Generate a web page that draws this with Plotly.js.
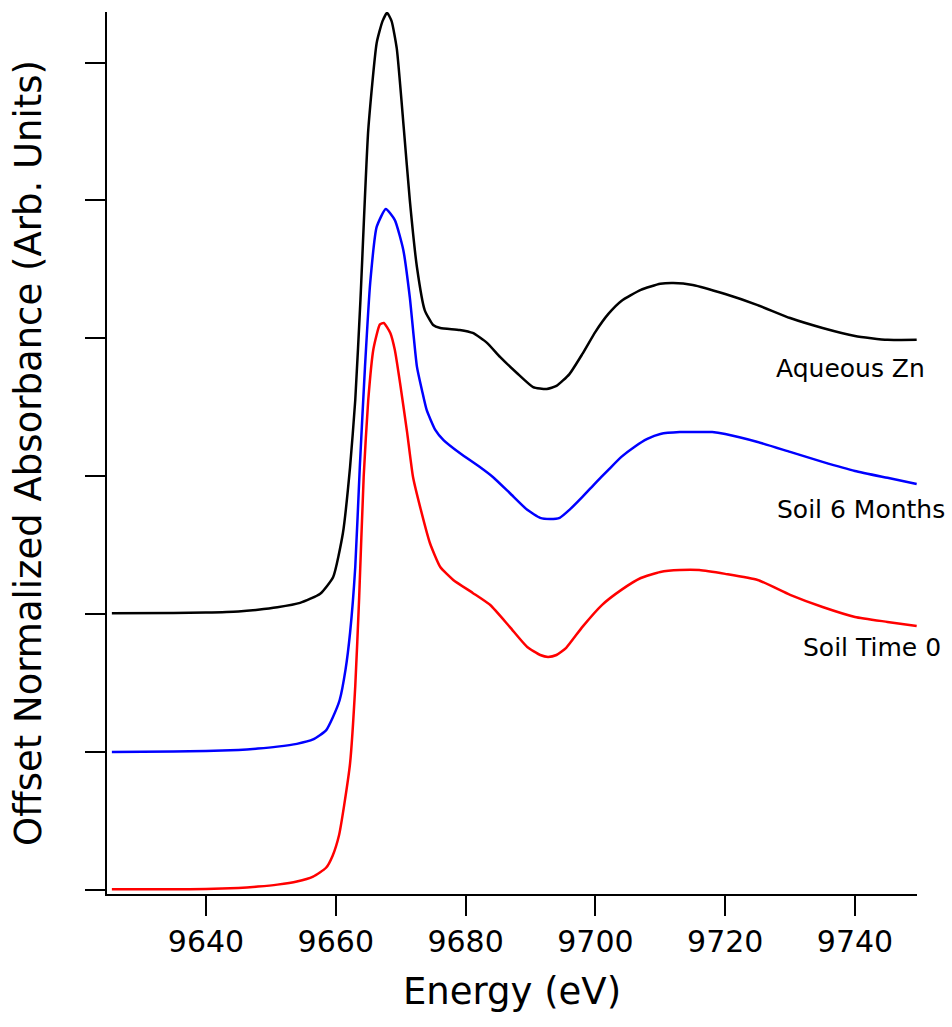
<!DOCTYPE html>
<html>
<head>
<meta charset="utf-8">
<script src="https://cdn.plot.ly/plotly-3.0.1.min.js"></script>
<style>html,body{margin:0;padding:0;background:#fff;}#chart{width:952px;height:1027px;}</style>
</head>
<body>
<div id="chart"></div>
<script>
// Series names and vertical offsets
const seriesNames = ["Aqueous Zn", "Soil 6 Months", "Soil Time 0"];
const offsets = [1.0, 0.5, 0.0];
const colors = ["#000000", "#0000ff", "#ff0000"];

// Aqueous Zn (normalized absorbance, before offset)
const energyAq = [9625.5, 9635, 9640, 9645, 9648, 9651, 9654.5, 9657.6, 9659.6, 9661.1, 9662.2, 9663, 9663.8, 9665.0, 9666.3, 9667.2, 9667.9, 9668.6, 9669.4, 9670.5, 9671.4, 9672.5, 9673.7, 9675, 9676.1, 9679.1, 9681.1, 9683.3, 9685.3, 9687.9, 9690.4, 9692.5, 9694, 9696, 9698, 9700, 9702, 9704, 9707, 9710, 9712, 9715, 9720, 9725, 9730, 9735, 9740, 9745, 9749.5];
const absAq = [0.004, 0.005, 0.007, 0.011, 0.017, 0.026, 0.042, 0.075, 0.136, 0.295, 0.534, 0.777, 1.140, 1.755, 2.071, 2.150, 2.180, 2.150, 2.050, 1.755, 1.502, 1.259, 1.103, 1.049, 1.038, 1.031, 1.020, 0.984, 0.933, 0.875, 0.824, 0.817, 0.828, 0.871, 0.944, 1.024, 1.089, 1.136, 1.176, 1.198, 1.201, 1.194, 1.161, 1.121, 1.074, 1.038, 1.009, 0.995, 0.995];

// Soil 6 Months
const energy6m = [9625.5, 9635, 9640, 9645, 9648, 9651, 9654, 9656.5, 9658.5, 9659.5, 9660.6, 9661.5, 9662.2, 9663, 9663.7, 9664.5, 9665.3, 9666.3, 9667.7, 9669.1, 9670.4, 9671.4, 9672.5, 9673.3, 9674.0, 9675.3, 9676.6, 9679.1, 9682.2, 9684.2, 9686.8, 9689.5, 9691.5, 9693, 9694.5, 9696, 9698, 9700, 9702, 9704, 9706, 9708, 9710, 9713, 9716, 9718, 9720, 9725, 9730, 9735, 9740, 9745, 9749.5];
const abs6m = [0.002, 0.003, 0.005, 0.009, 0.014, 0.021, 0.031, 0.047, 0.080, 0.125, 0.19, 0.30, 0.433, 0.672, 1.034, 1.397, 1.701, 1.904, 1.969, 1.929, 1.821, 1.65, 1.398, 1.31, 1.241, 1.17, 1.132, 1.085, 1.034, 0.998, 0.940, 0.879, 0.850, 0.846, 0.850, 0.879, 0.926, 0.976, 1.024, 1.071, 1.107, 1.136, 1.154, 1.161, 1.161, 1.161, 1.154, 1.125, 1.089, 1.053, 1.020, 0.995, 0.973];

// Soil Time 0
const energyT0 = [9625.5, 9635, 9640, 9645, 9648, 9651, 9654, 9656.5, 9658.5, 9659.5, 9660.5, 9661.3, 9662.2, 9663.0, 9663.6, 9664.3, 9665.0, 9665.8, 9666.8, 9667.4, 9668.4, 9669.1, 9669.9, 9671, 9671.9, 9673, 9674.5, 9676.1, 9678.1, 9681.1, 9683.8, 9686.8, 9689.5, 9691.5, 9692.7, 9694, 9695.5, 9698, 9701, 9704, 9707, 9710, 9713, 9716, 9720, 9725, 9730, 9735, 9740, 9745, 9749.5];
const absT0 = [0.004, 0.004, 0.005, 0.009, 0.014, 0.021, 0.032, 0.050, 0.082, 0.125, 0.20, 0.31, 0.46, 0.74, 1.06, 1.50, 1.777, 1.962, 2.051, 2.056, 2.020, 1.958, 1.839, 1.658, 1.498, 1.389, 1.259, 1.172, 1.125, 1.078, 1.034, 0.955, 0.882, 0.853, 0.846, 0.853, 0.879, 0.955, 1.034, 1.089, 1.132, 1.154, 1.161, 1.161, 1.147, 1.125, 1.071, 1.027, 0.991, 0.973, 0.958];

// Axis ticks
const xTickVals = [9640, 9660, 9680, 9700, 9720, 9740];
const yTickVals = [0, 0.5, 1.0, 1.5, 2.0, 2.5, 3.0];

const energies = [energyAq, energy6m, energyT0];
const absorbances = [absAq, abs6m, absT0];

const traces = seriesNames.map((name, i) => ({
  type: "scatter",
  mode: "lines",
  name: name,
  x: energies[i],
  y: absorbances[i].map(v => v + offsets[i]),
  line: { color: colors[i], width: 2.5, shape: "spline", smoothing: 0.5 },
  hoverinfo: "skip"
}));

const FONT = "DejaVu Sans, Lucida Grande, sans-serif";

const layout = {
  width: 952,
  height: 1027,
  margin: { l: 107, r: 35, t: 12, b: 133 },
  paper_bgcolor: "#ffffff",
  plot_bgcolor: "#ffffff",
  showlegend: false,
  font: { family: FONT, color: "#000000" },
  xaxis: {
    range: [9624.75, 9749.55],
    tickvals: xTickVals,
    ticktext: xTickVals.map(String),
    ticks: "outside",
    ticklen: 20,
    tickwidth: 2,
    tickcolor: "#000000",
    showline: true,
    linecolor: "#000000",
    linewidth: 2,
    showgrid: false,
    zeroline: false,
    tickfont: { family: FONT, size: 30, color: "#000000" },
    title: { text: "Energy (eV)", font: { family: FONT, size: 37, color: "#000000" }, standoff: 20 }
  },
  yaxis: {
    range: [-0.013, 3.183],
    tickvals: yTickVals,
    ticks: "outside",
    ticklen: 20,
    tickwidth: 2,
    tickcolor: "#000000",
    showticklabels: false,
    showline: true,
    linecolor: "#000000",
    linewidth: 2,
    showgrid: false,
    zeroline: false,
    title: { text: "Offset Normalized Absorbance (Arb. Units)", font: { family: FONT, size: 37, color: "#000000" }, standoff: 32 }
  },
  annotations: [
    { text: seriesNames[0], xref: "paper", yref: "y", x: 1.012, y: 1.893, xanchor: "right", yanchor: "middle", showarrow: false, font: { family: FONT, size: 25, color: "#000000" } },
    { text: seriesNames[1], xref: "paper", yref: "y", x: 1.037, y: 1.379, xanchor: "right", yanchor: "middle", showarrow: false, font: { family: FONT, size: 25, color: "#000000" } },
    { text: seriesNames[2], xref: "paper", yref: "y", x: 1.032, y: 0.879, xanchor: "right", yanchor: "middle", showarrow: false, font: { family: FONT, size: 25, color: "#000000" } }
  ]
};

Plotly.newPlot("chart", traces, layout, { displayModeBar: false, staticPlot: true });
</script>
</body>
</html>
